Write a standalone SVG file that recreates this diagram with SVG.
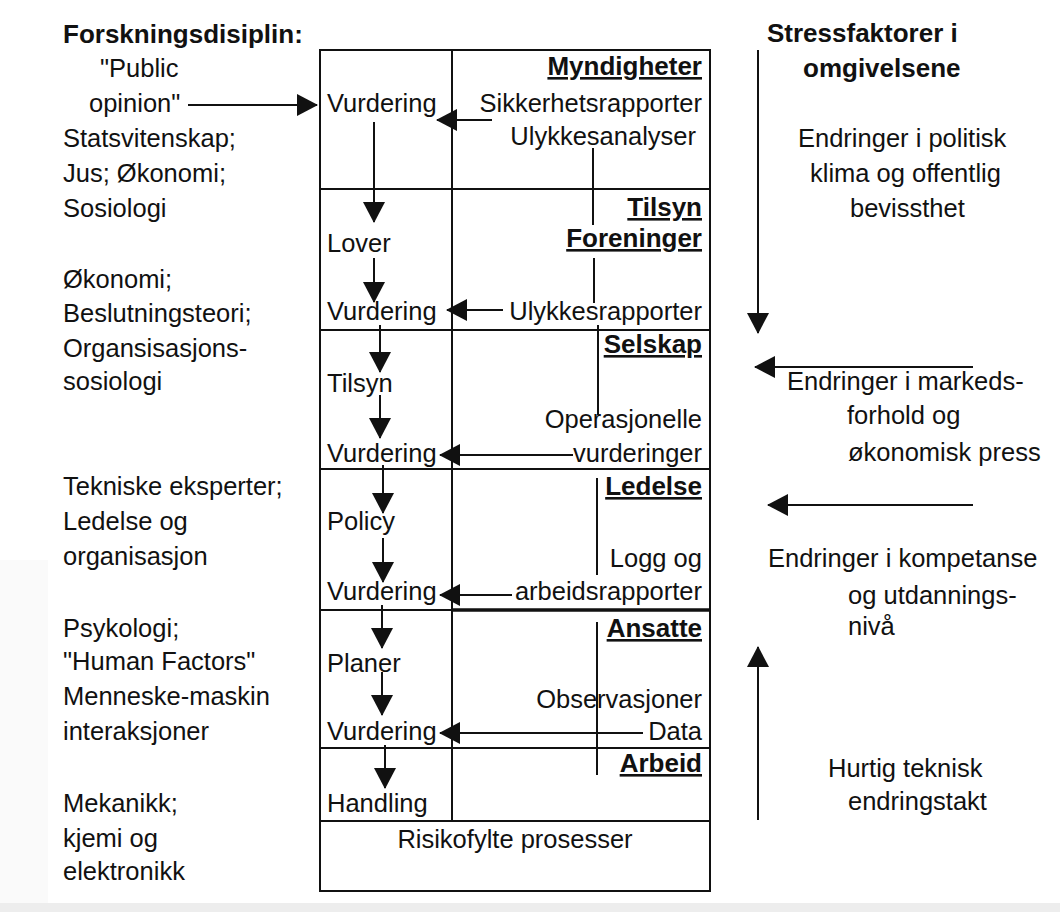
<svg xmlns="http://www.w3.org/2000/svg" width="1060" height="912" viewBox="0 0 1060 912">
<style>
text{font-family:"Liberation Sans",Arial,sans-serif;font-size:25.5px;fill:#111}
.b{font-weight:bold;font-size:26px}
.u{text-decoration:underline}
.e{text-anchor:end}
.box{fill:none;stroke:#111;stroke-width:2}
.c{stroke:#111;stroke-width:2;fill:none}
.a{marker-end:url(#ah)}
</style>
<defs>
<marker id="ah" markerUnits="userSpaceOnUse" markerWidth="22" markerHeight="22" refX="20" refY="11" orient="auto">
<path d="M0,0 L21,11 L0,22 z" fill="#111"/>
</marker>
</defs>
<rect width="1060" height="912" fill="#fff"/>
<rect x="0" y="903" width="1060" height="9" fill="#ededed"/>
<rect x="0" y="560" width="48" height="343" fill="#fafafa"/>

<g id="frame">
<rect class="box" x="320" y="50" width="390" height="841"/>
<line class="box" x1="452" y1="50" x2="452" y2="821"/>
<line class="box" x1="320" y1="189" x2="710" y2="189"/>
<line class="box" x1="320" y1="330" x2="710" y2="330"/>
<line class="box" x1="320" y1="469" x2="710" y2="469"/>
<line class="box" x1="320" y1="610" x2="452" y2="610"/>
<line x1="452" y1="610" x2="710" y2="610" stroke="#111" stroke-width="3.5"/>
<line class="box" x1="320" y1="748" x2="710" y2="748"/>
<line class="box" x1="320" y1="821" x2="710" y2="821"/>
</g>

<g id="left-labels">
<text class="b" x="63" y="43">Forskningsdisiplin:</text>
<text x="100" y="77">"Public</text>
<text x="89" y="112">opinion"</text>
<text x="63" y="147">Statsvitenskap;</text>
<text x="63" y="182">Jus; Økonomi;</text>
<text x="63" y="217">Sosiologi</text>
<text x="63" y="288">Økonomi;</text>
<text x="63" y="322">Beslutningsteori;</text>
<text x="63" y="357">Organsisasjons-</text>
<text x="63" y="390">sosiologi</text>
<text x="63" y="495">Tekniske eksperter;</text>
<text x="63" y="530">Ledelse og</text>
<text x="63" y="565">organisasjon</text>
<text x="63" y="637">Psykologi;</text>
<text x="63" y="670">"Human Factors"</text>
<text x="63" y="705">Menneske-maskin</text>
<text x="63" y="740">interaksjoner</text>
<text x="63" y="812">Mekanikk;</text>
<text x="63" y="847">kjemi og</text>
<text x="63" y="880">elektronikk</text>
</g>

<g id="myndigheter">
<text class="b u e" x="702" y="75">Myndigheter</text>
<text x="327" y="112">Vurdering</text>
<text class="e" x="702" y="112">Sikkerhetsrapporter</text>
<text class="e" x="696" y="145">Ulykkesanalyser</text>
</g>
<g id="tilsyn">
<text class="b u e" x="702" y="216">Tilsyn</text>
<text class="b u e" x="702" y="247">Foreninger</text>
<text x="327" y="252">Lover</text>
<text x="327" y="320">Vurdering</text>
<text class="e" x="702" y="320">Ulykkesrapporter</text>
</g>
<g id="selskap">
<text class="b u e" x="702" y="353">Selskap</text>
<text x="327" y="392">Tilsyn</text>
<text class="e" x="702" y="428">Operasjonelle</text>
<text x="327" y="462">Vurdering</text>
<text class="e" x="702" y="462">vurderinger</text>
</g>
<g id="ledelse">
<text class="b u e" x="702" y="495">Ledelse</text>
<text x="327" y="530">Policy</text>
<text class="e" x="702" y="567">Logg og</text>
<text x="327" y="600">Vurdering</text>
<text class="e" x="702" y="600">arbeidsrapporter</text>
</g>
<g id="ansatte">
<text class="b u e" x="702" y="637">Ansatte</text>
<text x="327" y="672">Planer</text>
<text class="e" x="702" y="708">Observasjoner</text>
<text x="327" y="740">Vurdering</text>
<text class="e" x="702" y="740">Data</text>
</g>
<g id="arbeid">
<text class="b u e" x="702" y="772">Arbeid</text>
<text x="327" y="812">Handling</text>
</g>
<g id="prosesser">
<text x="515" y="848" text-anchor="middle">Risikofylte prosesser</text>
</g>

<g id="right-labels">
<text class="b" x="767" y="42">Stressfaktorer i</text>
<text class="b" x="803" y="77">omgivelsene</text>
<text x="798" y="147">Endringer i politisk</text>
<text x="810" y="182">klima og offentlig</text>
<text x="850" y="217">bevissthet</text>
<text x="787" y="390">Endringer i markeds-</text>
<text x="847" y="424">forhold og</text>
<text x="848" y="461">økonomisk press</text>
<text x="768" y="567">Endringer i kompetanse</text>
<text x="848" y="604">og utdannings-</text>
<text x="848" y="635">nivå</text>
<text x="828" y="777">Hurtig teknisk</text>
<text x="848" y="810">endringstakt</text>
</g>

<g id="connectors">
<line class="c a" x1="188" y1="105" x2="317" y2="105"/>
<line class="c a" x1="374" y1="122" x2="374" y2="222"/>
<line class="c a" x1="374" y1="258" x2="374" y2="302"/>
<line class="c a" x1="380" y1="325" x2="380" y2="372"/>
<line class="c a" x1="380" y1="395" x2="380" y2="438"/>
<line class="c a" x1="383" y1="465" x2="383" y2="513"/>
<line class="c a" x1="383" y1="538" x2="383" y2="582"/>
<line class="c a" x1="382" y1="605" x2="382" y2="648"/>
<line class="c a" x1="382" y1="672" x2="382" y2="715"/>
<line class="c a" x1="385" y1="745" x2="385" y2="788"/>
<line class="c a" x1="492" y1="120" x2="437" y2="120"/>
<line class="c a" x1="503" y1="310" x2="447" y2="310"/>
<line class="c a" x1="573" y1="455" x2="440" y2="455"/>
<line class="c a" x1="512" y1="595" x2="440" y2="595"/>
<line class="c a" x1="643" y1="733" x2="440" y2="733"/>
<line class="c" x1="593" y1="148" x2="593" y2="225"/>
<line class="c" x1="594" y1="258" x2="594" y2="303"/>
<line class="c" x1="598" y1="325" x2="598" y2="415"/>
<line class="c" x1="597" y1="478" x2="597" y2="575"/>
<line class="c" x1="597" y1="622" x2="597" y2="775"/>
<line class="c a" x1="758" y1="50" x2="758" y2="333"/>
<line class="c a" x1="973" y1="367" x2="755" y2="367"/>
<line class="c a" x1="973" y1="505" x2="768" y2="505"/>
<line class="c a" x1="758" y1="820" x2="758" y2="647"/>
</g>
</svg>
